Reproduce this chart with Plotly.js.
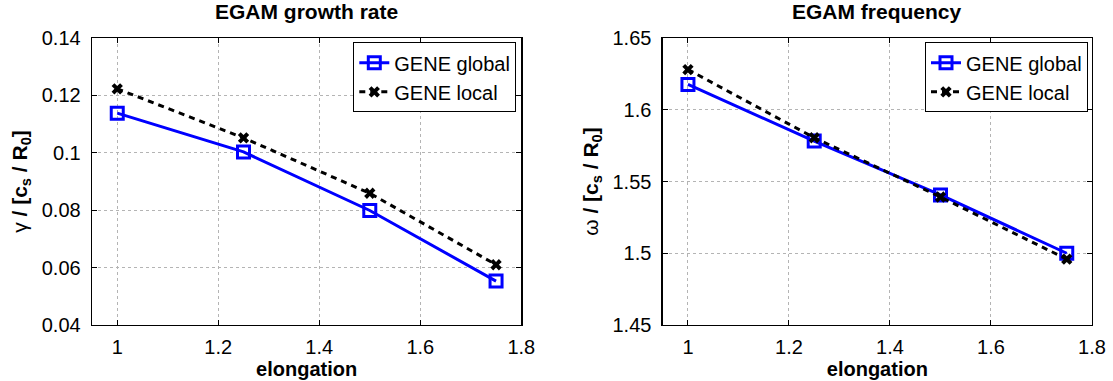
<!DOCTYPE html>
<html>
<head>
<meta charset="utf-8">
<script src="https://cdn.plot.ly/plotly-3.0.1.min.js"></script>
<style>html,body{margin:0;padding:0;background:#fff;} #chart{width:1113px;height:381px;}</style>
</head>
<body>
<div id="chart"></div>
<script>
// Data
const elongation = [1, 1.25, 1.5, 1.75];
const growthGlobal = [0.1138, 0.1003, 0.0799, 0.0553];
const growthLocal = [0.1223, 0.1052, 0.0859, 0.0610];
const freqGlobal = [1.6176, 1.5782, 1.5406, 1.5000];
const freqLocal = [1.6280, 1.5805, 1.5392, 1.4959];
const seriesNames = ["GENE global", "GENE local"];
const panelTitles = ["EGAM growth rate", "EGAM frequency"];
const xTickVals = [1, 1.2, 1.4, 1.6, 1.8];
const xTickText = ["1", "1.2", "1.4", "1.6", "1.8"];
const yTickValsL = [0.04, 0.06, 0.08, 0.1, 0.12, 0.14];
const yTickTextL = ["0.04", "0.06", "0.08", "0.1", "0.12", "0.14"];
const yTickValsR = [1.45, 1.5, 1.55, 1.6, 1.65];
const yTickTextR = ["1.45", "1.5", "1.55", "1.6", "1.65"];

const FONT = "Liberation Sans, Arial, Helvetica, sans-serif";
const blue = "#0000ff";

function globalTrace(y, xa, ya, lg) {
  return {x: elongation, y: y, xaxis: xa, yaxis: ya, legend: lg, name: seriesNames[0],
    mode: "lines+markers", type: "scatter",
    line: {color: blue, width: 3},
    marker: {symbol: "square-open", size: 12, color: blue, line: {color: blue, width: 3}}};
}
function localTrace(y, xa, ya, lg) {
  return {x: elongation, y: y, xaxis: xa, yaxis: ya, legend: lg, name: seriesNames[1],
    mode: "lines+markers", type: "scatter",
    line: {color: "#000", width: 3, dash: "6px,5px"},
    marker: {symbol: "x", size: 10, color: "#000", line: {width: 0}}};
}

const data = [
  globalTrace(growthGlobal, "x", "y", "legend"),
  localTrace(growthLocal, "x", "y", "legend"),
  globalTrace(freqGlobal, "x2", "y2", "legend2"),
  localTrace(freqLocal, "x2", "y2", "legend2")
];

function xAxis(domain, anchor) {
  return {domain: domain, anchor: anchor, range: [0.95, 1.8],
    tickvals: xTickVals, ticktext: xTickText,
    ticks: "inside", ticklen: 5, tickcolor: "#000", tickwidth: 1,
    showline: true, linecolor: "#000", linewidth: 1.3, mirror: "ticks",
    showgrid: true, gridcolor: "#b4b4b4", griddash: "dot", gridwidth: 1,
    zeroline: false, tickfont: {family: FONT, size: 20, color: "#000"},
    ticklabelstandoff: 4,
    title: {text: "<b>elongation</b>", font: {family: FONT, size: 20, color: "#000"}, standoff: 2}};
}
function yAxis(domain, anchor, range, tv, tt, sym) {
  return {domain: [0, 1], anchor: anchor, range: range,
    tickvals: tv, ticktext: tt,
    ticks: "inside", ticklen: 5, tickcolor: "#000", tickwidth: 1,
    showline: true, linecolor: "#000", linewidth: 1.3, mirror: "ticks",
    showgrid: true, gridcolor: "#b4b4b4", griddash: "dot", gridwidth: 1,
    zeroline: false, tickfont: {family: FONT, size: 20, color: "#000"},
    ticklabelstandoff: 6,
    title: {text: sym + " <b>/ [c<sub>s</sub> / R<sub>0</sub>]</b>", font: {family: FONT, size: 21, color: "#000"}, standoff: 8}};
}

const legendBase = {bordercolor: "#000", borderwidth: 1, bgcolor: "#fff",
  font: {family: FONT, size: 20, color: "#000"}, xanchor: "right", yanchor: "top",
  tracegroupgap: 0, itemwidth: 30};

const layout = {
  width: 1113, height: 381,
  margin: {l: 91.5, r: 21, t: 37.5, b: 56.3},
  paper_bgcolor: "#fff", plot_bgcolor: "#fff",
  font: {family: FONT, color: "#000"},
  xaxis: xAxis([0, 0.4293], "y"),
  yaxis: yAxis([0, 1], "x", [0.04, 0.14], yTickValsL, yTickTextL, "γ"),
  xaxis2: xAxis([0.5707, 1], "y2"),
  yaxis2: yAxis([0, 1], "x2", [1.45, 1.65], yTickValsR, yTickTextR, "ω"),
  legend: Object.assign({}, legendBase, {x: 0.4243, y: 0.985}),
  legend2: Object.assign({}, legendBase, {x: 0.996, y: 0.985}),
  showlegend: true,
  annotations: [
    {text: "<b>" + panelTitles[0] + "</b>", xref: "paper", yref: "paper", x: 0.2146, y: 1.0923,
     xanchor: "center", yanchor: "middle", showarrow: false, font: {family: FONT, size: 21, color: "#000"}},
    {text: "<b>" + panelTitles[1] + "</b>", xref: "paper", yref: "paper", x: 0.7854, y: 1.0923,
     xanchor: "center", yanchor: "middle", showarrow: false, font: {family: FONT, size: 21, color: "#000"}}
  ]
};

Plotly.newPlot("chart", data, layout, {displayModeBar: false, staticPlot: true});
</script>
</body>
</html>
